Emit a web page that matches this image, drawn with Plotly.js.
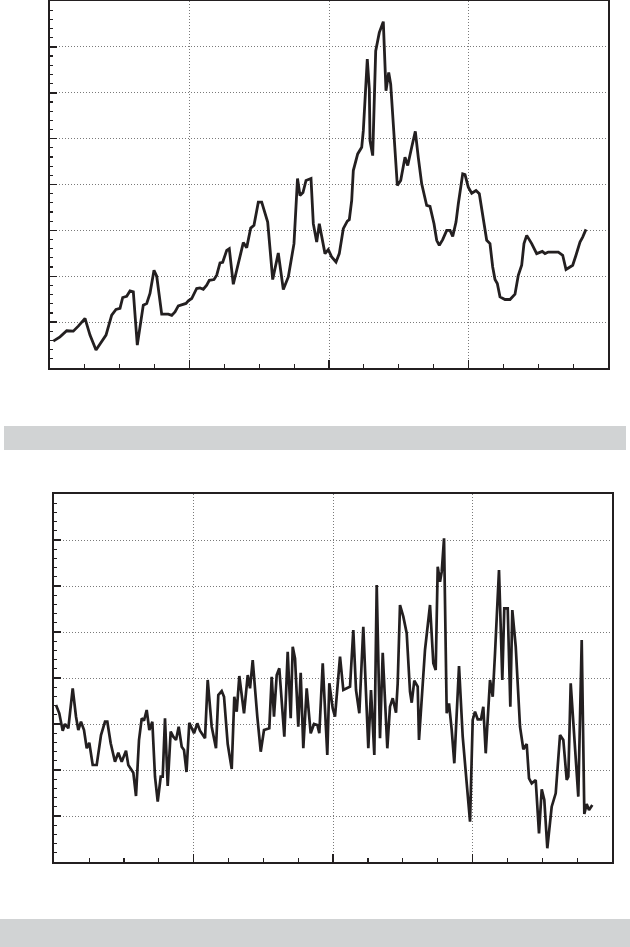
<!DOCTYPE html>
<html>
<head>
<meta charset="utf-8">
<script src="https://cdn.plot.ly/plotly-3.0.1.min.js"></script>
<style>html,body{margin:0;padding:0;background:#fff;}#chart{width:630px;height:947px;}</style>
</head>
<body>
<div id="chart"></div>
<script>
// Panel 1 (upper series)
const p1x = [0.095,0.287,0.479,0.668,0.811,1.004,1.147,1.319,1.606,1.769,1.892,2.007,2.085,2.199,2.294,2.389,2.503,2.675,2.773,2.867,2.982,3.060,3.203,3.392,3.490,3.584,3.679,3.805,3.900,3.966,4.063,4.206,4.301,4.396,4.493,4.568,4.703,4.780,4.875,4.952,5.067,5.141,5.256,5.353,5.543,5.640,5.755,5.849,5.973,6.070,6.242,6.386,6.546,6.690,6.833,6.996,7.097,7.168,7.254,7.341,7.484,7.550,7.647,7.722,7.819,7.885,7.980,8.077,8.201,8.295,8.410,8.525,8.582,8.651,8.697,8.823,8.938,8.984,9.098,9.156,9.176,9.253,9.339,9.442,9.557,9.634,9.712,9.769,9.959,10.056,10.179,10.257,10.371,10.475,10.560,10.658,10.801,10.896,11.011,11.088,11.163,11.260,11.375,11.470,11.547,11.642,11.708,11.834,11.900,11.994,12.092,12.215,12.310,12.425,12.522,12.616,12.694,12.760,12.826,12.903,13.047,13.190,13.333,13.428,13.525,13.591,13.669,13.812,13.955,14.116,14.194,14.288,14.575,14.701,14.796,14.910,14.988,15.082,15.197,15.274,15.369];
const p1y = [5.87,6.80,8.11,8.04,9.13,10.80,7.17,3.91,7.17,11.52,12.76,12.98,15.37,15.65,16.80,16.59,5.00,13.70,14.07,16.24,21.30,20.00,11.74,11.74,11.46,12.24,13.54,13.91,14.07,14.63,15.15,17.33,17.46,17.17,18.04,19.13,19.28,20.22,22.89,23.04,25.65,26.02,18.26,21.30,27.33,26.24,30.50,31.09,36.15,36.15,31.80,19.28,25.07,17.11,19.85,27.11,41.30,37.61,38.26,40.87,41.30,31.46,27.46,31.46,27.46,24.93,25.80,24.20,23.11,24.93,30.37,32.02,32.33,36.52,43.04,46.67,48.11,51.74,67.33,60.80,49.57,46.30,69.13,73.11,75.50,60.43,64.41,61.89,39.78,40.87,45.93,44.13,48.11,51.59,45.93,40.15,35.43,35.22,31.46,27.83,26.74,27.98,30.00,30.00,28.70,31.80,35.80,42.33,42.17,39.41,38.11,38.70,37.98,32.17,27.83,27.11,22.02,19.28,18.41,15.50,14.93,14.93,16.09,20.22,22.39,27.11,28.91,27.11,24.93,25.43,24.93,25.28,25.28,24.57,21.46,22.02,22.39,24.57,27.46,28.54,30.22];

// Panel 2 (lower series)
const p2x = [0.049,0.143,0.241,0.307,0.402,0.528,0.623,0.689,0.766,0.852,0.930,1.004,1.102,1.216,1.340,1.455,1.521,1.618,1.741,1.836,1.934,2.057,2.123,2.267,2.344,2.430,2.508,2.573,2.651,2.726,2.812,2.889,2.967,3.053,3.110,3.176,3.253,3.339,3.414,3.492,3.569,3.655,3.721,3.793,3.873,4.008,4.103,4.180,4.324,4.401,4.516,4.639,4.705,4.803,4.869,4.975,5.090,5.164,5.233,5.308,5.443,5.549,5.615,5.692,5.824,5.922,6.016,6.168,6.237,6.303,6.381,6.455,6.599,6.696,6.782,6.840,6.906,7.000,7.069,7.144,7.241,7.356,7.451,7.546,7.603,7.701,7.832,7.890,7.987,8.053,8.197,8.292,8.389,8.484,8.578,8.656,8.751,8.865,8.943,9.009,9.086,9.181,9.250,9.344,9.422,9.554,9.631,9.709,9.803,9.852,9.918,10.013,10.110,10.205,10.254,10.328,10.426,10.463,10.635,10.779,10.874,10.942,11.000,11.066,11.115,11.181,11.258,11.324,11.401,11.476,11.611,11.717,11.832,11.927,12.004,12.070,12.147,12.242,12.308,12.377,12.500,12.578,12.644,12.758,12.853,12.910,13.008,13.083,13.140,13.238,13.361,13.456,13.553,13.619,13.697,13.811,13.906,13.984,14.058,14.144,14.270,14.385,14.509,14.603,14.701,14.747,14.815,14.939,15.033,15.131,15.206,15.274,15.340,15.435];
const p2y = [34.13,32.33,28.54,30.00,29.07,37.76,31.59,28.70,30.50,28.70,24.72,25.93,21.09,21.09,27.61,30.50,30.50,25.80,21.80,23.76,21.80,24.20,21.09,19.41,14.35,26.52,31.24,30.72,33.04,28.70,30.50,18.54,13.11,18.54,18.54,31.24,16.52,28.33,27.24,26.52,29.41,25.07,24.35,19.57,30.28,27.98,30.15,28.54,26.89,39.57,29.41,24.72,36.30,37.17,35.93,25.65,20.22,35.93,32.67,40.43,32.33,40.65,37.76,43.91,31.59,23.98,28.70,29.07,40.28,31.59,40.65,42.11,27.24,45.72,31.24,46.80,44.28,29.41,41.15,24.72,37.76,27.98,30.00,29.78,27.98,43.20,23.26,38.85,33.41,31.59,44.63,37.39,37.76,38.11,50.43,37.39,32.33,51.15,36.67,24.72,37.39,23.26,60.22,26.89,45.50,24.72,33.76,35.59,32.46,38.85,55.87,53.33,49.72,37.02,34.63,39.41,38.11,26.52,46.09,55.87,43.20,41.74,64.20,60.93,63.11,70.37,32.33,34.50,28.70,21.46,42.61,27.24,17.11,8.76,30.87,32.67,31.02,31.02,33.76,23.63,39.57,35.93,45.37,63.48,39.57,55.15,55.15,33.76,54.78,46.80,29.41,24.50,25.65,18.20,17.11,17.83,6.24,15.80,13.48,2.98,12.02,14.93,27.61,26.52,17.83,18.54,38.85,24.35,14.20,48.26,10.43,12.61,11.30,12.39];

const W = 630, H = 947;
const INK = '#231f20';
const GRID = '#7a7a7a';
const DASH = '1px,2px';

function xa(l, r, extra) {
  return Object.assign({
    domain: [l / W, r / W], range: [0, 16], dtick: 4, tick0: 0,
    showticklabels: false, ticks: 'inside', ticklen: 8, tickwidth: 1.5, tickcolor: INK,
    showline: true, linecolor: INK, linewidth: 2, mirror: true,
    showgrid: true, gridcolor: GRID, griddash: DASH, gridwidth: 1,
    zeroline: false, fixedrange: true,
    minor: {dtick: 1, tick0: 0, ticks: 'inside', ticklen: 4, tickwidth: 1.2, tickcolor: INK, showgrid: false}
  }, extra || {});
}
function ya(t, b, extra) {
  return Object.assign({
    domain: [1 - b / H, 1 - t / H], range: [0, 80], dtick: 10, tick0: 0,
    showticklabels: false, ticks: 'inside', ticklen: 7, tickwidth: 1.5, tickcolor: INK,
    showline: true, linecolor: INK, linewidth: 2, mirror: true,
    showgrid: true, gridcolor: GRID, griddash: DASH, gridwidth: 1,
    zeroline: false, fixedrange: true,
    minor: {dtick: 2, tick0: 0, ticks: 'inside', ticklen: 3, tickwidth: 1.2, tickcolor: INK, showgrid: false}
  }, extra || {});
}

const traces = [
  {x: p1x, y: p1y, type: 'scatter', mode: 'lines', line: {color: INK, width: 2.8}, xaxis: 'x', yaxis: 'y', hoverinfo: 'skip'},
  {x: p2x, y: p2y, type: 'scatter', mode: 'lines', line: {color: INK, width: 2.7}, xaxis: 'x2', yaxis: 'y2', hoverinfo: 'skip'}
];

const layout = {
  width: W, height: H,
  margin: {l: 0, r: 0, t: 0, b: 0, pad: 0},
  paper_bgcolor: '#ffffff', plot_bgcolor: '#ffffff',
  showlegend: false,
  xaxis: xa(50, 608, {anchor: 'y'}),
  yaxis: ya(1, 368, {anchor: 'x'}),
  xaxis2: xa(54.3, 612, {anchor: 'y2'}),
  yaxis2: ya(494, 862, {anchor: 'x2'}),
  shapes: [
    {type: 'rect', xref: 'paper', yref: 'paper', x0: 4 / W, x1: 626 / W, y0: 1 - 450 / H, y1: 1 - 426 / H, fillcolor: '#d1d3d4', line: {width: 0}, layer: 'below'},
    {type: 'rect', xref: 'paper', yref: 'paper', x0: 0, x1: 1, y0: 0, y1: 1 - 919 / H, fillcolor: '#d1d3d4', line: {width: 0}, layer: 'below'}
  ]
};

Plotly.newPlot('chart', traces, layout, {staticPlot: true, displayModeBar: false});
</script>
</body>
</html>
